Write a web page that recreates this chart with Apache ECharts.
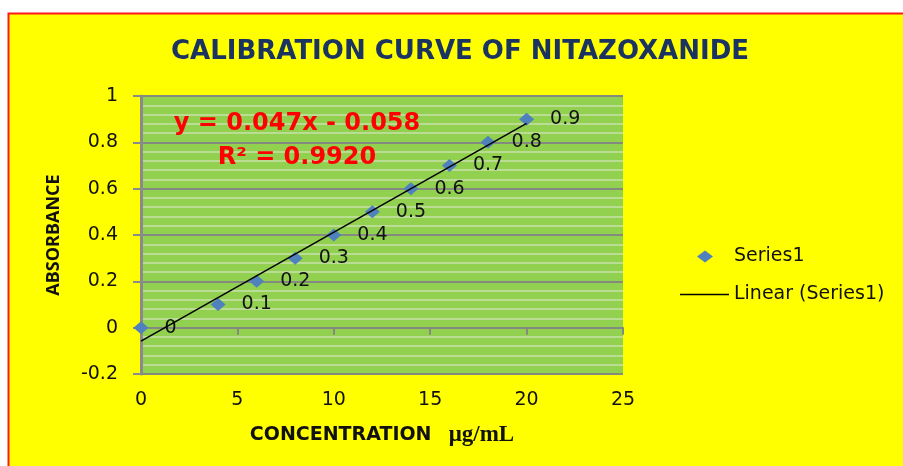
<!DOCTYPE html>
<html>
<head>
<meta charset="utf-8">
<script src="https://cdn.jsdelivr.net/npm/echarts@6/dist/echarts.min.js"></script>
<style>
  html, body { margin: 0; padding: 0; background: #ffffff; }
  #chart { width: 903px; height: 466px; }
</style>
</head>
<body>
<div id="chart"></div>
<script>
// calibration data (concentration, absorbance)
var concentration = [0, 4, 6, 8, 10, 12, 14, 16, 18, 20]
var absorbance = [0, 0.1, 0.2, 0.3, 0.4, 0.5, 0.6, 0.7, 0.8, 0.9]
// linear trendline as printed on the chart
var trendSlope = 0.047
var trendIntercept = -0.058
var trendRange = [0, 20]
// axis ranges
var xRange = [0, 25, 5]
var yRange = [-0.2, 1, 0.2]

var scatterData = concentration.map(function(x, i) { return [x, absorbance[i]] })
var trendData = trendRange.map(function(x) { return [x, trendSlope * x + trendIntercept] })

var chart = echarts.init(document.getElementById('chart'))
var tickFont = { fontFamily: 'DejaVu Sans', fontSize: 19, color: '#111111' }

chart.setOption({
  animation: false,
  backgroundColor: '#ffffff',
  graphic: [
    {
      type: 'rect',
      z: -10,
      shape: { x: 8.5, y: 13.5, width: 1000, height: 600 },
      style: { fill: '#ffff00', stroke: '#ff1a1a', lineWidth: 2 }
    },
    {
      type: 'text',
      x: 460, y: 52,
      style: {
        text: 'CALIBRATION CURVE OF NITAZOXANIDE',
        fontFamily: 'DejaVu Sans', fontWeight: 'bold', fontSize: 26,
        fill: '#1b3361', align: 'center', verticalAlign: 'middle'
      }
    },
    {
      type: 'text',
      x: 297, y: 124, z: 10,
      style: {
        text: 'y = 0.047x - 0.058',
        fontFamily: 'DejaVu Sans', fontWeight: 'bold', fontSize: 24,
        fill: '#ff0000', align: 'center', verticalAlign: 'middle'
      }
    },
    {
      type: 'text',
      x: 297, y: 158, z: 10,
      style: {
        text: 'R² = 0.9920',
        fontFamily: 'DejaVu Sans', fontWeight: 'bold', fontSize: 24,
        fill: '#ff0000', align: 'center', verticalAlign: 'middle'
      }
    }
  ],
  legend: [
    {
      data: [{ name: 'Series1', icon: 'diamond' }],
      left: 692,
      top: 242,
      itemWidth: 16,
      itemHeight: 12,
      itemStyle: { opacity: 1 },
      textStyle: { fontFamily: 'DejaVu Sans', fontSize: 19, color: '#111111', padding: [0, 0, 0, 16] }
    },
    {
      data: [{ name: 'Linear (Series1)', icon: 'rect' }],
      left: 675,
      top: 280,
      itemWidth: 49,
      itemHeight: 1.5,
      textStyle: { fontFamily: 'DejaVu Sans', fontSize: 19, color: '#111111' }
    }
  ],
  grid: {
    left: 141,
    right: 280,
    top: 96,
    bottom: 92,
    show: true,
    backgroundColor: '#92d050',
    borderWidth: 0
  },
  xAxis: [
    {
      type: 'value',
      min: xRange[0],
      max: xRange[1],
      interval: xRange[2],
      position: 'bottom',
      axisLine: { show: false, onZero: false },
      axisTick: { show: false },
      splitLine: { show: false },
      axisLabel: Object.assign({ margin: 17 }, tickFont),
      name: '{a|CONCENTRATION}{b|   μg/mL}',
      nameLocation: 'middle',
      nameGap: 50,
      nameTextStyle: {
        rich: {
          a: { fontFamily: 'DejaVu Sans', fontWeight: 'bold', fontSize: 19, color: '#111' },
          b: { fontFamily: 'Liberation Serif', fontWeight: 'bold', fontSize: 23, color: '#111' }
        }
      }
    },
    {
      type: 'value',
      min: xRange[0],
      max: xRange[1],
      interval: xRange[2],
      position: 'top',
      axisLine: { show: true, onZero: true, lineStyle: { color: '#858a80', width: 2 } },
      axisTick: { show: true, inside: true, length: 7, lineStyle: { color: '#858a80', width: 2 } },
      splitLine: { show: false },
      axisLabel: { show: false }
    }
  ],
  yAxis: {
    type: 'value',
    min: yRange[0],
    max: yRange[1],
    interval: yRange[2],
    axisLine: { show: true, lineStyle: { color: '#8a8a8a', width: 3 } },
    axisTick: { show: true, length: 8, lineStyle: { color: '#8a8a8a', width: 2 } },
    axisLabel: Object.assign({ margin: 23 }, tickFont),
    splitLine: { show: true, lineStyle: { color: '#858a80', width: 2 } },
    minorTick: { show: false, splitNumber: 5 },
    minorSplitLine: { show: true, lineStyle: { color: '#c8e0ac', width: 1.5 } },
    name: 'ABSORBANCE',
    nameLocation: 'middle',
    nameGap: 78,
    nameTextStyle: { fontFamily: 'Open Sans', fontWeight: 'bold', fontSize: 18, color: '#111' }
  },
  series: [
    {
      name: 'Series1',
      type: 'scatter',
      data: scatterData,
      symbol: 'diamond',
      symbolSize: [15, 13],
      itemStyle: { color: '#4f81bd', opacity: 1 },
      z: 3,
      label: {
        show: true,
        position: 'right',
        distance: 16,
        fontFamily: 'DejaVu Sans',
        fontSize: 19,
        color: '#111111',
        formatter: function(p) { return String(p.value[1]) }
      }
    },
    {
      name: 'Linear (Series1)',
      type: 'line',
      data: trendData,
      showSymbol: false,
      z: 4,
      itemStyle: { color: '#000000' },
      lineStyle: { color: '#000000', width: 1.5 }
    }
  ]
})
</script>
</body>
</html>
